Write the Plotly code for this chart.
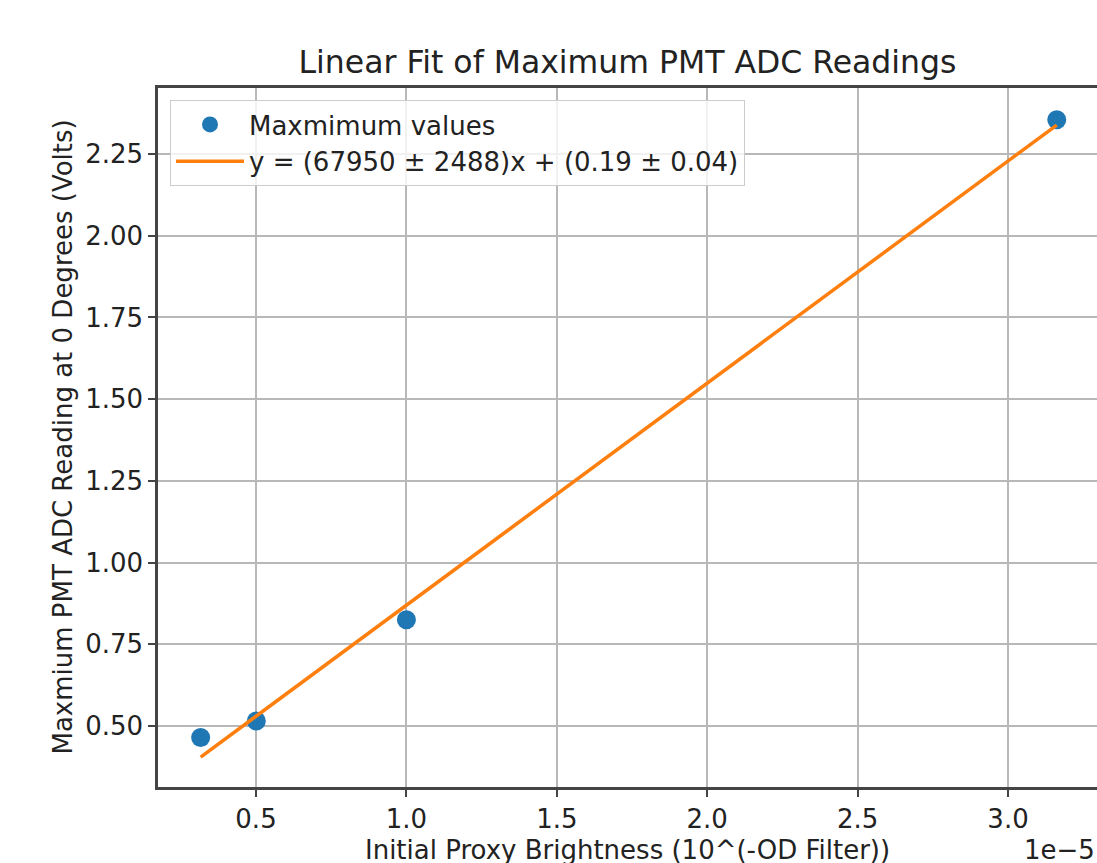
import plotly.graph_objects as go

# Data (x in units of 1e-5)
brightness_e5 = [0.316, 0.501, 1.000, 3.162]
max_volts = [0.465, 0.515, 0.825, 2.355]
x_ticks = [0.5, 1.0, 1.5, 2.0, 2.5, 3.0]
x_tick_labels = ["0.5", "1.0", "1.5", "2.0", "2.5", "3.0"]
y_ticks = [0.50, 0.75, 1.00, 1.25, 1.50, 1.75, 2.00, 2.25]
y_tick_labels = ["0.50", "0.75", "1.00", "1.25", "1.50", "1.75", "2.00", "2.25"]
slope = 67950
slope_err = 2488
intercept = 0.19
intercept_err = 0.04
x_scale = 1e-5

fit_y = [slope * x * x_scale + intercept for x in brightness_e5]

W, H = 1097, 863
L, T, B, R = 158, 88, 76, 0
plot_w = W - L - R
plot_h = H - T - B

text_col = "#222222"
font = "DejaVu Sans, Liberation Sans, sans-serif"

fig = go.Figure()
fig.add_trace(go.Scatter(
    x=brightness_e5, y=max_volts, mode="markers",
    marker=dict(color="#1f77b4", size=19, line=dict(width=0)),
    name="Maxmimum values",
))
fig.add_trace(go.Scatter(
    x=brightness_e5, y=fit_y, mode="lines",
    line=dict(color="#ff7f0e", width=3.5),
    name=f"y = ({slope} ± {slope_err})x + ({intercept:.2f} ± {intercept_err:.2f})",
))

fig.update_layout(
    width=W, height=H,
    margin=dict(l=L, r=R, t=T, b=B),
    paper_bgcolor="white", plot_bgcolor="white",
    font=dict(family=font, size=26, color=text_col),
    title=dict(text="Linear Fit of Maximum PMT ADC Readings",
               x=(L + plot_w / 2) / W, xanchor="center",
               y=1 - 62 / H, yanchor="middle",
               font=dict(size=31.5, color=text_col)),
    showlegend=True,
    legend=dict(x=(170 - L) / plot_w, y=1 - (100 - T) / plot_h,
                xanchor="left", yanchor="top",
                bgcolor="rgba(255,255,255,0.8)", bordercolor="#cccccc", borderwidth=1,
                font=dict(size=26, color=text_col), itemwidth=68,
                tracegroupgap=0),
    xaxis=dict(range=[0.1742, 3.2958], tickvals=x_ticks, ticktext=x_tick_labels,
               showgrid=True, gridcolor="#b8b8b8", gridwidth=1.6,
               showline=True, linecolor="#444444", linewidth=2.5, mirror=True,
               ticks="outside", ticklen=7, tickwidth=2, tickcolor="#444444",
               zeroline=False, tickfont=dict(size=26, color=text_col)),
    yaxis=dict(range=[0.3133, 2.452], tickvals=y_ticks, ticktext=y_tick_labels,
               showgrid=True, gridcolor="#b8b8b8", gridwidth=1.6,
               showline=True, linecolor="#444444", linewidth=2.5, mirror=False,
               ticks="outside", ticklen=7, tickwidth=2, tickcolor="#444444",
               zeroline=False, tickfont=dict(size=26, color=text_col)),
    annotations=[
        dict(text="Initial Proxy Brightness (10^(-OD Filter))",
             xref="paper", yref="paper", x=0.5, y=-(850 - (H - B)) / plot_h,
             xanchor="center", yanchor="middle", showarrow=False,
             font=dict(size=26, color=text_col)),
        dict(text="1e\u22125",
             xref="paper", yref="paper", x=1.0, y=-(850 - (H - B)) / plot_h,
             xanchor="right", yanchor="middle", showarrow=False,
             font=dict(size=26, color=text_col)),
        dict(text="Maxmium PMT ADC Reading at 0 Degrees (Volts)",
             xref="paper", yref="paper", x=(62 - L) / plot_w, y=0.5,
             xanchor="center", yanchor="middle", textangle=-90, showarrow=False,
             font=dict(size=26, color=text_col)),
    ],
)

fig.write_html("out.html")
